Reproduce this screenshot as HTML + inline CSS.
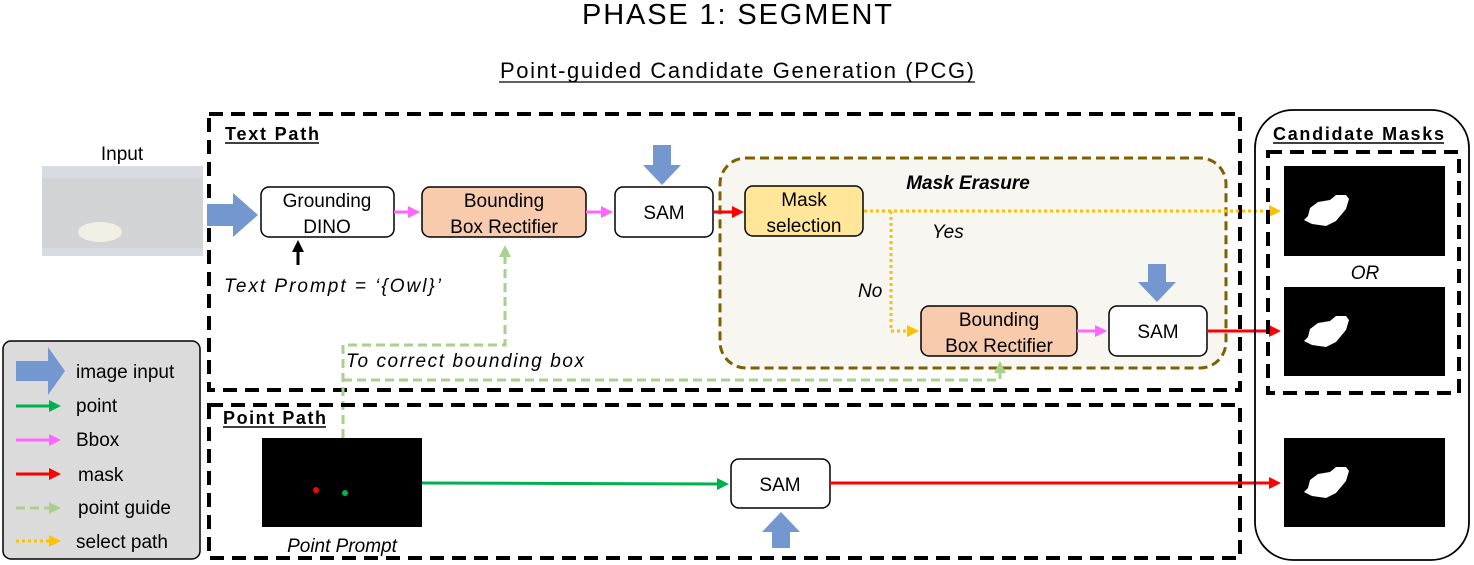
<!DOCTYPE html>
<html><head><style>body{margin:0;background:#fff}svg{display:block}text{font-family:"Liberation Sans",sans-serif}</style></head>
<body>
<svg width="1474" height="565" viewBox="0 0 1474 565" xmlns="http://www.w3.org/2000/svg">
<defs>
<marker id="mG" markerWidth="4" markerHeight="4" refX="3" refY="2" orient="auto" markerUnits="strokeWidth"><path d="M0,0L4,2L0,4z" fill="#00b050"/></marker>
<marker id="mP" markerWidth="4" markerHeight="4" refX="3" refY="2" orient="auto" markerUnits="strokeWidth"><path d="M0,0L4,2L0,4z" fill="#ff66ff"/></marker>
<marker id="mR" markerWidth="4" markerHeight="4" refX="3" refY="2" orient="auto" markerUnits="strokeWidth"><path d="M0,0L4,2L0,4z" fill="#ff0000"/></marker>
<marker id="mL" markerWidth="4" markerHeight="4" refX="3" refY="2" orient="auto" markerUnits="strokeWidth"><path d="M0,0L4,2L0,4z" fill="#a9d18e"/></marker>
<marker id="mY" markerWidth="4" markerHeight="4" refX="3" refY="2" orient="auto" markerUnits="strokeWidth"><path d="M0,0L4,2L0,4z" fill="#ffc000"/></marker>
<marker id="mK" markerWidth="4" markerHeight="4" refX="3" refY="2" orient="auto" markerUnits="strokeWidth"><path d="M0,0L4,2L0,4z" fill="#000"/></marker>
<g id="blob"><path d="M30,25 l8,-6 l12,-2 l6,-5 l10,0 l3,4 l-3,10 l-10,12 l-10,5 l-14,-2 l-8,-4 l4,-4z" fill="#fff"/></g>
</defs>
<text x="737" y="24" font-size="29" text-anchor="middle" textLength="310">PHASE 1: SEGMENT</text>
<text x="737" y="78" font-size="22" text-anchor="middle" textLength="474">Point-guided Candidate Generation (PCG)</text>
<line x1="499" y1="82" x2="975" y2="82" stroke="#000" stroke-width="1.3"/>

<!-- input -->
<text x="122" y="160" font-size="19" text-anchor="middle">Input</text>
<rect x="42" y="166" width="161" height="90" fill="#d8dce2"/>
<rect x="42" y="178" width="161" height="70" fill="#c9c4bc" opacity=".35"/>
<ellipse cx="100" cy="232" rx="22" ry="10" fill="#f2efe6"/>

<!-- Text path box -->
<rect x="209" y="114" width="1031" height="276" fill="none" stroke="#000" stroke-width="4" stroke-dasharray="14,8"/>
<text x="225" y="140" font-size="18" font-weight="bold" textLength="94">Text Path</text>
<line x1="225" y1="143" x2="319" y2="143" stroke="#000" stroke-width="1.5"/>

<!-- Mask erasure -->
<rect x="720" y="158" width="506" height="210" rx="26" fill="#f7f6f1" stroke="#7f6000" stroke-width="3" stroke-dasharray="9,5"/>
<text x="968" y="189" font-size="19" font-style="italic" font-weight="bold" text-anchor="middle">Mask Erasure</text>

<path d="M207,204 h26 v-11 l25,22 l-25,22 v-11 h-26z" fill="#7497d0"/>
<rect x="261" y="187" width="133" height="50" rx="8" fill="#fff" stroke="#000" stroke-width="1.5"/>
<text x="327" y="207" font-size="19" text-anchor="middle">Grounding</text>
<text x="327" y="233" font-size="19" text-anchor="middle">DINO</text>
<line x1="298" y1="265" x2="298" y2="243" stroke="#000" stroke-width="3" marker-end="url(#mK)"/>
<text x="224" y="292" font-size="19" font-style="italic" textLength="217">Text Prompt = ‘{Owl}’</text>

<rect x="422" y="187" width="164" height="50" rx="8" fill="#f8cbad" stroke="#000" stroke-width="1.5"/>
<text x="504" y="207" font-size="19" text-anchor="middle">Bounding</text>
<text x="504" y="233" font-size="19" text-anchor="middle">Box Rectifier</text>
<line x1="394" y1="212" x2="417" y2="212" stroke="#ff66ff" stroke-width="3" marker-end="url(#mP)"/>
<line x1="586" y1="212" x2="610" y2="212" stroke="#ff66ff" stroke-width="3" marker-end="url(#mP)"/>

<rect x="615" y="187" width="98" height="50" rx="8" fill="#fff" stroke="#000" stroke-width="1.5"/>
<text x="664" y="219" font-size="19" text-anchor="middle">SAM</text>
<path d="M653,145 h18 v20 h10 l-19,20 l-19,-20 h10z" fill="#7497d0"/>
<line x1="713" y1="212" x2="741" y2="212" stroke="#ff0000" stroke-width="3" marker-end="url(#mR)"/>

<rect x="745" y="186" width="118" height="50" rx="8" fill="#ffe699" stroke="#000" stroke-width="1.5"/>
<text x="804" y="206" font-size="19" text-anchor="middle">Mask</text>
<text x="804" y="232" font-size="19" text-anchor="middle">selection</text>

<line x1="864" y1="211" x2="1278" y2="211" stroke="#ffc000" stroke-width="3" stroke-dasharray="3,3" marker-end="url(#mY)"/>
<polyline points="891,211 891,331 916,331" fill="none" stroke="#ffc000" stroke-width="3" stroke-dasharray="3,3" marker-end="url(#mY)"/>
<text x="932" y="238" font-size="19" font-style="italic">Yes</text>
<text x="858" y="297" font-size="19" font-style="italic">No</text>

<rect x="921" y="306" width="156" height="50" rx="8" fill="#f8cbad" stroke="#000" stroke-width="1.5"/>
<text x="999" y="326" font-size="19" text-anchor="middle">Bounding</text>
<text x="999" y="352" font-size="19" text-anchor="middle">Box Rectifier</text>
<line x1="1077" y1="331" x2="1104" y2="331" stroke="#ff66ff" stroke-width="3" marker-end="url(#mP)"/>
<rect x="1109" y="306" width="98" height="50" rx="8" fill="#fff" stroke="#000" stroke-width="1.5"/>
<text x="1158" y="338" font-size="19" text-anchor="middle">SAM</text>
<path d="M1148,264 h18 v18 h10 l-19,20 l-19,-20 h10z" fill="#7497d0"/>
<line x1="1207" y1="331" x2="1278" y2="331" stroke="#ff0000" stroke-width="3" marker-end="url(#mR)"/>

<polyline points="343,438 343,345 505,345 505,248" fill="none" stroke="#a9d18e" stroke-width="3" stroke-dasharray="9,5" marker-end="url(#mL)"/>
<polyline points="343,380 1000,380 1000,364" fill="none" stroke="#a9d18e" stroke-width="3" stroke-dasharray="9,5" marker-end="url(#mL)"/>
<text x="346" y="367" font-size="19" font-style="italic" textLength="238">To correct bounding box</text>

<rect x="209" y="405" width="1031" height="153" fill="none" stroke="#000" stroke-width="4" stroke-dasharray="14,8"/>
<text x="223" y="424" font-size="18" font-weight="bold" textLength="103">Point Path</text>
<line x1="223" y1="427" x2="326" y2="427" stroke="#000" stroke-width="1.5"/>
<rect x="262" y="438" width="160" height="89" fill="#000"/>
<circle cx="316" cy="490" r="3" fill="#ff0000"/>
<circle cx="345" cy="493" r="3" fill="#00b050"/>
<text x="342" y="552" font-size="19" font-style="italic" text-anchor="middle">Point Prompt</text>
<line x1="422" y1="483" x2="726" y2="484" stroke="#00b050" stroke-width="3" marker-end="url(#mG)"/>
<rect x="731" y="459" width="99" height="49" rx="8" fill="#fff" stroke="#000" stroke-width="1.5"/>
<text x="780" y="491" font-size="19" text-anchor="middle">SAM</text>
<path d="M781,512 l19,20 h-10 v16 h-18 v-16 h-10z" fill="#7497d0"/>
<line x1="830" y1="483" x2="1278" y2="483" stroke="#ff0000" stroke-width="3" marker-end="url(#mR)"/>

<rect x="1255" y="110" width="214" height="450" rx="38" fill="none" stroke="#000" stroke-width="1.8"/>
<text x="1273" y="140" font-size="18" font-weight="bold" textLength="171">Candidate Masks</text>
<line x1="1273" y1="143" x2="1444" y2="143" stroke="#000" stroke-width="1.5"/>
<rect x="1268" y="152" width="191" height="241" fill="none" stroke="#000" stroke-width="4" stroke-dasharray="14,8"/>
<rect x="1284" y="166" width="161" height="90" fill="#000"/>
<use href="#blob" x="1280" y="183"/>
<text x="1365" y="279" font-size="19" font-style="italic" text-anchor="middle">OR</text>
<rect x="1284" y="287" width="161" height="89" fill="#000"/>
<use href="#blob" x="1280" y="304"/>
<rect x="1284" y="438" width="161" height="89" fill="#000"/>
<use href="#blob" x="1280" y="455"/>

<rect x="3" y="341" width="197" height="218" rx="8" fill="#dcdbdc" stroke="#000" stroke-width="1.5"/>
<path d="M16,361 h32 v-14 l17,24 l-17,24 v-14 h-32z" fill="#7497d0"/>
<text x="76" y="378" font-size="19">image input</text>
<line x1="16" y1="406" x2="58" y2="406" stroke="#00b050" stroke-width="3" marker-end="url(#mG)"/>
<text x="76" y="412" font-size="19">point</text>
<line x1="16" y1="440" x2="58" y2="440" stroke="#ff66ff" stroke-width="3" marker-end="url(#mP)"/>
<text x="76" y="446" font-size="19">Bbox</text>
<line x1="16" y1="474" x2="58" y2="474" stroke="#ff0000" stroke-width="3" marker-end="url(#mR)"/>
<text x="78" y="481" font-size="19">mask</text>
<line x1="16" y1="508" x2="58" y2="508" stroke="#a9d18e" stroke-width="3" stroke-dasharray="9,5" marker-end="url(#mL)"/>
<text x="78" y="514" font-size="19">point guide</text>
<line x1="16" y1="541" x2="58" y2="541" stroke="#ffc000" stroke-width="3" stroke-dasharray="3,3" marker-end="url(#mY)"/>
<text x="76" y="548" font-size="19">select path</text>
</svg>
</body></html>
